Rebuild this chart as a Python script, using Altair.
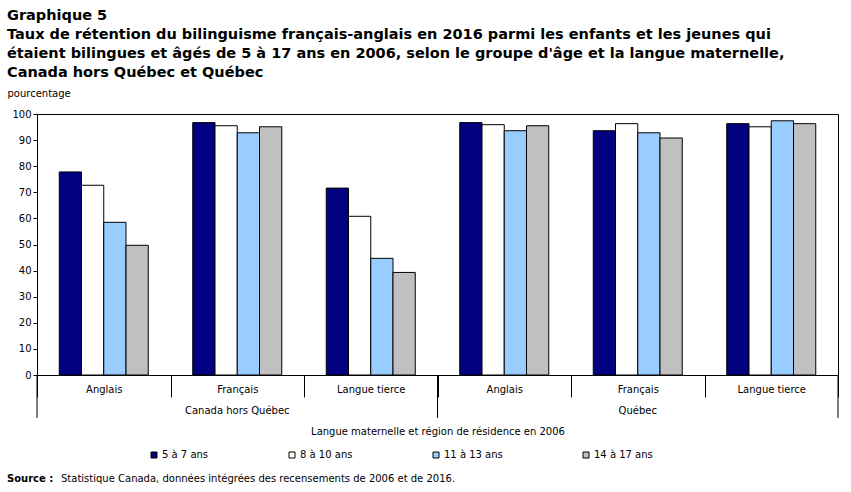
import altair as alt
import pandas as pd

regions = ["Canada hors Québec", "Québec"]
languages = ["Anglais", "Français", "Langue tierce"]
age_groups = ["5 à 7 ans", "8 à 10 ans", "11 à 13 ans", "14 à 17 ans"]
colors = ["#000080", "#ffffff", "#99ccff", "#c0c0c0"]

# Retention rate (%) by region/mother tongue, one list per age group
rate_5_7 = [77.8, 96.7, 71.6, 96.7, 93.6, 96.3]
rate_8_10 = [72.7, 95.5, 60.8, 95.9, 96.3, 95.1]
rate_11_13 = [58.5, 92.8, 44.7, 93.6, 92.8, 97.4]
rate_14_17 = [49.7, 95.1, 39.3, 95.5, 90.8, 96.3]

title_lines = [
    "Graphique 5",
    "Taux de rétention du bilinguisme  français-anglais  en 2016 parmi les enfants et les jeunes qui",
    "étaient bilingues  et âgés de 5 à 17 ans en 2006, selon le groupe d'âge et la langue maternelle,",
    "Canada hors Québec et Québec",
]

FONT = "DejaVu Sans"
W, H = 801, 261

keys = [f"{r}|{l}" for r in regions for l in languages]
rates = [rate_5_7, rate_8_10, rate_11_13, rate_14_17]
rows = []
for a, series in zip(age_groups, rates):
    for k, v in zip(keys, series):
        rows.append({"key": k, "age": a, "rate": v})
df = pd.DataFrame(rows)

xscale = alt.Scale(domain=keys, paddingInner=0, paddingOuter=0)

bars = alt.Chart(df).mark_bar(stroke="black", strokeWidth=1).encode(
    x=alt.X(
        "key:N",
        scale=xscale,
        sort=keys,
        axis=alt.Axis(
            title="Langue maternelle et région de résidence en 2006",
            labelExpr="split(datum.label, '|')[1]",
            labelAngle=0,
            labelPadding=-13,
            tickBand="extent",
            tickSize=22,
            titlePadding=29,
        ),
    ),
    xOffset=alt.XOffset(
        "age:N", sort=age_groups, scale=alt.Scale(domain=age_groups, paddingOuter=1, paddingInner=0)
    ),
    y=alt.Y(
        "rate:Q",
        scale=alt.Scale(domain=[0, 100], nice=False),
        axis=alt.Axis(
            title="pourcentage",
            values=list(range(0, 101, 10)),
            tickSize=4,
            grid=False,
            titleAngle=0,
            titleAlign="left",
            titleBaseline="alphabetic",
            titleX=-30,
            titleY=-18,
            titleFontWeight="normal",
        ),
    ),
    color=alt.Color(
        "age:N",
        sort=age_groups,
        scale=alt.Scale(domain=age_groups, range=colors),
        legend=alt.Legend(
            title=None,
            orient="none",
            direction="horizontal",
            legendX=112,
            legendY=336,
            symbolType="square",
            symbolSize=36,
            symbolStrokeColor="black",
            symbolStrokeWidth=1,
            symbolOpacity=1,
            labelOffset=3,
            columnPadding=78,
            labelFontSize=10,
            labelFont=FONT,
        ),
    ),
)

# Region names centred under the middle language of each region
region_df = pd.DataFrame({"key": [f"{r}|{languages[1]}" for r in regions], "region": regions})
region_labels = alt.Chart(region_df).mark_text(font=FONT, fontSize=10, baseline="middle", color="black").encode(
    x=alt.X("key:N", scale=xscale, sort=keys),
    y=alt.value(H + 36),
    text="region:N",
)

# Long separators at the outer edges of each region
left_edges = pd.DataFrame({"key": [f"{r}|{languages[0]}" for r in regions]})
right_edges = pd.DataFrame({"key": [f"{regions[-1]}|{languages[-1]}"]})
sep_left = alt.Chart(left_edges).mark_rule(color="black", strokeWidth=1).encode(
    x=alt.X("key:N", scale=xscale, sort=keys, bandPosition=0),
    y=alt.value(H),
    y2=alt.value(H + 43),
)
sep_right = alt.Chart(right_edges).mark_rule(color="black", strokeWidth=1).encode(
    x=alt.X("key:N", scale=xscale, sort=keys, bandPosition=1),
    y=alt.value(H),
    y2=alt.value(H + 43),
)

src_df = pd.DataFrame({"bold": ["Source :"], "rest": ["Statistique Canada, données intégrées des recensements de 2006 et de 2016."]})
src_bold = alt.Chart(src_df).mark_text(font=FONT, fontSize=10, fontWeight="bold", align="left", baseline="alphabetic", color="black").encode(
    x=alt.value(-30), y=alt.value(H + 107), text="bold:N"
)
src_rest = alt.Chart(src_df).mark_text(font=FONT, fontSize=10, align="left", baseline="alphabetic", color="black").encode(
    x=alt.value(24), y=alt.value(H + 107), text="rest:N"
)

chart = (
    alt.layer(bars, region_labels, sep_left, sep_right, src_bold, src_rest)
    .properties(
        width=W,
        height=H,
        padding={"left": 7, "top": 7, "right": 10, "bottom": 5},
        title=alt.TitleParams(
            text=title_lines,
            anchor="start",
            frame="bounds",
            font=FONT,
            fontSize=14.5,
            fontWeight="bold",
            lineHeight=19,
            color="black",
            offset=8,
        ),
    )
    .configure_view(stroke="black", strokeWidth=1)
    .configure_axis(
        domainColor="black",
        tickColor="black",
        labelColor="black",
        titleColor="black",
        labelFont=FONT,
        titleFont=FONT,
        labelFontSize=10,
        titleFontSize=10,
        titleFontWeight="normal",
    )
    .configure_legend(labelColor="black")
)

chart.save("out.html", embed_options={"renderer": "svg", "actions": False})
